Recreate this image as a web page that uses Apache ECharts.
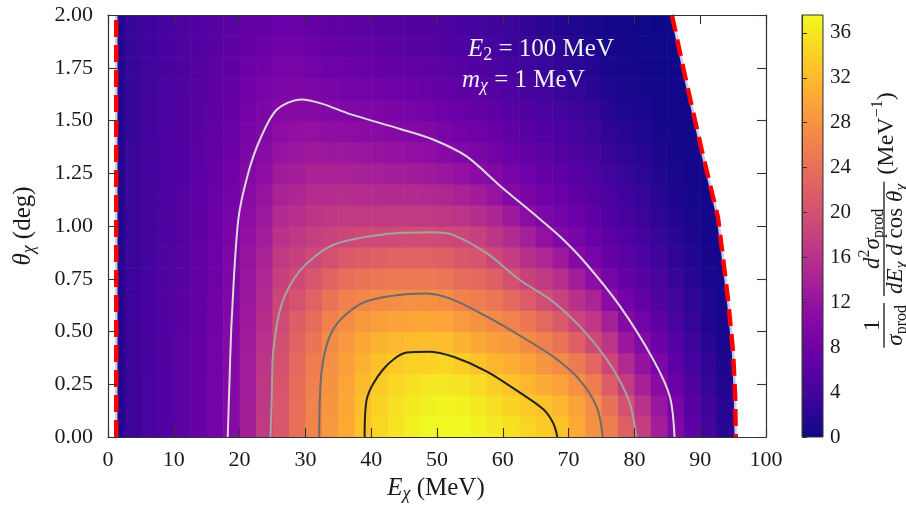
<!DOCTYPE html>
<html><head><meta charset="utf-8">
<script src="https://cdn.jsdelivr.net/npm/echarts@6/dist/echarts.min.js"></script>
<style>html,body{margin:0;padding:0;background:#fff}#chart{width:906px;height:506px}</style>
</head><body><div id="chart"></div>
<script>
// ---------- data ----------
const E_CENTERS = [1.25,3.75,6.25,8.75,11.25,13.75,16.25,18.75,21.25,23.75,26.25,28.75,31.25,33.75,36.25,38.75,41.25,43.75,46.25,48.75,51.25,53.75,56.25,58.75,61.25,63.75,66.25,68.75,71.25,73.75,76.25,78.75,81.25,83.75,86.25,88.75,91.25,93.75,96.25,98.75];
const THETA_CENTERS = [0.05,0.15,0.25,0.35,0.45,0.55,0.65,0.75,0.85,0.95,1.05,1.15,1.25,1.35,1.45,1.55,1.65,1.75,1.85,1.95];
const CELL_W = 2.5, CELL_H = 0.1;
const N = null;
// one list per E column, values from theta = 0.05 upward
const densityByColumn = [
 [1.5,1.5,1.5,1.5,1.5,1.5,1.5,1.5,1.5,1.4,1.4,1.4,1.4,1.4,1.4,1.3,1.3,1.3,1.3,1.3],
 [3.5,3.5,3.5,3.5,3.4,3.4,3.4,3.4,3.3,3.3,3.3,3.2,3.2,3.2,3.1,3.1,3.1,3.0,3.0,3.0],
 [4.5,4.5,4.5,4.4,4.4,4.4,4.3,4.3,4.2,4.2,4.1,4.1,4.0,4.0,3.9,3.9,3.8,3.8,3.7,3.7],
 [5.3,5.3,5.3,5.2,5.2,5.1,5.1,5.0,5.0,4.9,4.8,4.8,4.7,4.6,4.6,4.5,4.5,4.4,4.3,4.3],
 [6.2,6.2,6.2,6.1,6.1,6.0,6.0,5.9,5.8,5.7,5.6,5.5,5.4,5.3,5.2,5.1,5.0,4.9,4.8,4.8],
 [7.2,7.2,7.2,7.1,7.1,7.0,6.9,6.8,6.7,6.6,6.5,6.4,6.2,6.1,6.0,5.8,5.7,5.6,5.4,5.3],
 [8.5,8.5,8.4,8.4,8.3,8.2,8.1,8.0,7.9,7.8,7.6,7.4,7.2,7.0,6.8,6.6,6.4,6.2,6.0,5.8],
 [10.4,10.4,10.3,10.2,10.1,10.0,9.8,9.6,9.3,9.0,8.7,8.4,8.1,7.8,7.5,7.2,6.9,6.6,6.4,6.1],
 [13.5,13.5,13.4,13.3,13.1,12.9,12.6,12.3,12.0,11.6,11.1,10.6,10.0,9.5,9.0,8.5,8.1,7.7,7.3,6.9],
 [17.0,16.9,16.7,16.4,16.0,15.6,15.1,14.6,14.0,13.4,12.7,12.0,11.3,10.6,9.9,9.3,8.7,8.1,7.6,7.1],
 [21.0,20.9,20.6,20.2,19.8,19.3,18.8,17.9,17.0,16.0,15.1,14.1,13.1,12.1,11.1,10.2,9.4,8.7,8.1,7.5],
 [24.0,23.9,23.6,23.2,22.6,21.8,20.4,19.1,17.9,16.8,15.7,14.6,13.5,12.5,11.5,10.5,9.6,8.8,8.1,7.5],
 [26.3,26.2,25.9,25.4,24.6,23.6,22.3,20.7,19.0,17.7,16.5,15.3,14.1,12.9,11.7,10.5,9.4,8.5,7.7,7.0],
 [28.5,28.3,28.0,27.6,27.1,25.9,24.3,22.5,20.0,18.2,16.8,15.4,14.0,12.6,11.2,10.0,8.9,8.0,7.2,6.6],
 [30.5,30.3,29.9,29.3,28.5,27.3,25.8,23.8,21.3,18.7,17.0,15.5,14.0,12.6,11.1,9.7,8.6,7.7,6.9,6.3],
 [32.8,32.5,32.0,31.2,30.2,28.6,26.7,24.5,21.8,19.0,17.0,15.3,13.8,12.3,10.9,9.6,8.5,7.5,6.7,6.1],
 [34.5,34.1,33.5,32.5,31.2,29.4,27.2,24.8,22.2,19.2,17.0,15.2,13.6,12.1,10.6,9.3,8.2,7.3,6.5,5.9],
 [35.8,35.4,34.6,33.4,31.8,29.8,27.4,24.9,22.3,19.3,17.0,15.1,13.4,11.8,10.3,9.0,7.9,7.0,6.2,5.6],
 [36.8,36.3,35.4,34.1,32.2,30.0,27.6,25.0,22.3,19.4,17.0,15.0,13.2,11.6,10.0,8.8,7.7,6.8,6.0,5.4],
 [37.5,37.0,36.1,34.2,32.3,30.1,27.7,25.1,22.4,19.5,17.0,14.9,13.0,11.3,9.7,8.5,7.5,6.6,5.8,5.2],
 [37.8,37.2,36.1,34.5,32.3,29.9,27.3,24.7,22.0,19.2,16.7,14.6,12.5,10.5,9.1,8.0,7.0,6.1,5.4,4.8],
 [37.6,37.0,35.8,33.8,31.4,28.7,26.1,23.6,21.1,18.7,16.3,14.0,11.8,9.8,8.5,7.5,6.5,5.7,5.0,4.4],
 [37.0,36.3,34.9,32.7,30.3,28.0,25.6,23.2,20.6,18.0,15.5,13.2,10.9,9.2,8.0,7.0,6.1,5.3,4.6,4.1],
 [36.2,35.3,33.7,31.5,29.2,27.0,24.7,22.0,18.8,16.6,14.4,12.0,9.8,8.4,7.3,6.4,5.5,4.8,4.2,3.7],
 [35.3,34.3,32.8,30.8,28.5,26.1,23.3,20.0,17.5,15.2,12.9,10.1,8.8,7.6,6.6,5.8,5.0,4.3,3.7,3.2],
 [34.5,33.5,31.9,29.7,27.2,24.8,21.6,18.2,15.9,13.6,11.0,9.0,7.9,6.9,6.0,5.2,4.4,3.8,3.2,2.7],
 [33.6,32.6,30.6,28.3,25.9,23.0,19.6,17.0,14.6,11.7,9.4,8.2,7.1,6.2,5.3,4.5,3.8,3.2,2.6,2.1],
 [32.7,31.5,29.5,27.0,24.3,21.2,18.3,15.8,12.9,9.8,8.6,7.5,6.5,5.6,4.8,4.0,3.3,2.7,2.2,1.7],
 [30.5,29.6,27.7,25.3,22.1,18.5,15.9,13.3,10.3,8.7,7.6,6.6,5.7,4.9,4.1,3.4,2.8,2.2,1.7,1.3],
 [28.0,27.3,25.6,22.9,19.2,16.8,14.2,11.1,8.9,7.6,6.6,5.7,4.9,4.1,3.4,2.8,2.2,1.7,1.3,0.9],
 [25.5,24.2,21.7,18.8,16.4,13.7,10.8,8.7,7.3,6.3,5.4,4.6,3.8,3.1,2.5,1.9,1.4,1.0,0.7,0.5],
 [22.0,20.2,17.6,15.1,12.6,10.3,8.4,7.1,6.1,5.2,4.4,3.7,3.0,2.4,1.9,1.4,1.0,0.7,0.5,0.4],
 [17.5,16.0,13.9,11.9,10.0,8.3,7.0,5.9,5.0,4.2,3.5,2.9,2.3,1.8,1.4,1.0,0.7,0.5,0.3,0.2],
 [13.5,12.4,10.9,9.3,7.8,6.5,5.4,4.5,3.7,3.0,2.4,1.9,1.5,1.1,0.8,0.6,0.4,0.3,0.2,0.1],
 [9.8,9.0,7.8,6.6,5.5,4.6,3.8,3.1,2.5,2.0,1.6,1.2,0.9,0.7,0.5,0.4,0.3,0.2,0.1,0.1],
 [6.5,5.9,5.1,4.3,3.6,2.9,2.4,1.9,1.5,1.2,0.9,0.7,0.5,0.4,0.3,0.2,0.1,0.1,N,N],
 [4.0,3.6,3.0,2.5,2.0,1.6,1.3,1.0,0.8,0.6,0.4,0.3,0.2,0.1,N,N,N,N,N,N],
 [2.0,1.8,1.5,1.2,1.0,0.8,0.6,0.4,0.3,0.2,0.1,N,N,N,N,N,N,N,N,N],
 [0.8,0.7,0.5,0.4,N,N,N,N,N,N,N,N,N,N,N,N,N,N,N,N],
 [N,N,N,N,N,N,N,N,N,N,N,N,N,N,N,N,N,N,N,N]
];
// contour lines [E, theta]
const contour10 = [[18.2,0],[18.5,0.3],[18.8,0.555],[19.8,1.03],[21.3,1.25],[23.1,1.41],[25.6,1.55],[29.4,1.60],[32.5,1.58],[36.8,1.53],[44.4,1.46],[49.4,1.41],[54.5,1.33],[59.6,1.19],[64.6,1.06],[68.7,0.95],[72.7,0.82],[77.8,0.62],[82.9,0.365],[85.4,0.19],[86.1,0]];
const contour19 = [[24.7,0],[24.9,0.2],[25.1,0.40],[26.4,0.63],[29.2,0.79],[34.2,0.91],[41.8,0.96],[49.4,0.97],[52.5,0.957],[57.6,0.87],[62.6,0.744],[67.7,0.64],[72.7,0.49],[76.8,0.32],[79.3,0.16],[80.3,0]];
const contour27 = [[32.1,0],[32.5,0.32],[34.2,0.51],[38.3,0.63],[43.4,0.67],[48.4,0.68],[52.5,0.65],[57.6,0.57],[62.6,0.48],[67.7,0.38],[71.7,0.27],[74.3,0.14],[75.2,0]];
const contour33 = [[39.0,0],[39.3,0.175],[41.8,0.32],[45.4,0.40],[48.7,0.404],[52.5,0.38],[57.6,0.31],[62.6,0.21],[66.2,0.13],[67.7,0.063],[68.3,0]];
// kinematic boundaries
const boundaryE = [85.7,86.8,87.9,90.3,92.7,93.5,94.3,95.0,95.3,95.4];
const boundaryTheta = [2.0,1.84,1.68,1.35,1.04,0.84,0.63,0.40,0.2,0.0];
const leftEdgeE = [1.25,1.25];
const leftEdgeTheta = [0,2];
// axes ticks
const X_TICKS = [0,10,20,30,40,50,60,70,80,90,100];
const CB_TICKS = [0,4,8,12,16,20,24,28,32,36];
const CB_MAX = 37.6;
const PLASMA = ['#0d0887','#41049d','#6a00a8','#8f0da4','#b12a90','#cc4778','#e16462','#f2844b','#fca636','#fcce25','#f0f921'];

// ---------- build ----------
const cells = [];
E_CENTERS.forEach((e, c) => THETA_CENTERS.forEach((t, r) => {
  const v = densityByColumn[c][r];
  if (v !== null) cells.push([e, t, v]);
}));
const zip = (a, b) => a.map((v, i) => [v, b[i]]);

const FONT = '"Liberation Serif", "DejaVu Serif", serif';
const mctx = document.createElement('canvas').getContext('2d');
function fnt(p){ return (p.i ? 'italic ' : '') + (p.s || 22) + 'px ' + FONT; }
function mathLine(pieces, color, x0, y0, align){
  let x = 0; const items = [];
  for (const p of pieces){ mctx.font = fnt(p); const w = mctx.measureText(p.t).width; items.push({p, x}); x += w + (p.k || 0); }
  const off = align === 'center' ? -x/2 : 0;
  return {width: x, els: items.map(it => ({type:'text', x: x0 + it.x + off, y: y0 + (it.p.dy || 0), silent:true, z:100,
    style:{text: it.p.t, font: fnt(it.p), fill: color, align:'left', verticalAlign:'middle'}}))};
}

const TXT = '#1a1a1a';
const graphics = [];
// x axis title
graphics.push({type:'group', x:436, y:488, z:100, children: mathLine([{t:'E',s:25,i:1},{t:'χ',s:18,i:1,dy:6},{t:' (MeV)',s:25}], TXT, 0, 0, 'center').els});
// y axis title
graphics.push({type:'group', x:23, y:226, z:100, rotation:Math.PI/2, children: mathLine([{t:'θ',s:25,i:1},{t:'χ',s:18,i:1,dy:6},{t:' (deg)',s:25}], TXT, 0, 0, 'center').els});
// annotations
graphics.push({type:'group', x:468, y:49, z:100, children: mathLine([{t:'E',s:25,i:1},{t:'2',s:18,dy:6},{t:' = 100 MeV',s:25}], '#f2f2f2', 0, 0).els});
graphics.push({type:'group', x:462, y:80, z:100, children: mathLine([{t:'m',s:25,i:1},{t:'χ',s:18,i:1,dy:6},{t:' = 1 MeV',s:25}], '#f2f2f2', 0, 0).els});
// colorbar label (rotated)
(function(){
  const S = 23, s = 16;
  const num1 = mathLine([{t:'1',s:S}], TXT, 0, 0, 'center');
  const den1 = mathLine([{t:'σ',s:S,i:1},{t:'prod',s:s,dy:6}], TXT, 0, 0, 'center');
  const num2 = mathLine([{t:'d',s:S,i:1},{t:'2',s:s,dy:-8},{t:'σ',s:S,i:1},{t:'prod',s:s,dy:6}], TXT, 0, 0, 'center');
  const den2 = mathLine([{t:'d',s:S,i:1},{t:'E',s:S,i:1},{t:'χ',s:s,i:1,dy:6},{t:' d',s:S,i:1},{t:' cos ',s:S},{t:'θ',s:S,i:1},{t:'χ',s:s,i:1,dy:6}], TXT, 0, 0, 'center');
  const unit = mathLine([{t:'(MeV',s:24},{t:'−1',s:16,dy:-9},{t:')',s:24}], TXT, 0, 0, 'center');
  const w1 = Math.max(num1.width, den1.width) + 4;
  const w2 = Math.max(num2.width, den2.width) + 4;
  const gap = 7;
  const total = w1 + gap + w2 + gap + unit.width;
  let x = -total/2;
  const kids = [];
  const shift = (els, dx, dy) => els.map(e => Object.assign({}, e, {x: e.x + dx, y: e.y + dy}));
  const c1 = x + w1/2;
  kids.push(...shift(num1.els, c1, -11), ...shift(den1.els, c1, 12));
  kids.push({type:'line', z:100, shape:{x1:x, y1:0, x2:x+w1, y2:0}, style:{stroke:TXT, lineWidth:1.3}});
  x += w1 + gap;
  const c2 = x + w2/2;
  kids.push(...shift(num2.els, c2, -11), ...shift(den2.els, c2, 12));
  kids.push({type:'line', z:100, shape:{x1:x, y1:0, x2:x+w2, y2:0}, style:{stroke:TXT, lineWidth:1.3}});
  x += w2 + gap;
  kids.push(...shift(unit.els, x + unit.width/2, 3));
  graphics.push({type:'group', x:884, y:220, z:100, rotation:Math.PI/2, children:kids});
})();

const axisLine = {show:true, onZero:false, lineStyle:{color:'#333', width:1.2}};
const tickIn = {show:true, inside:true, length:9, lineStyle:{color:'#333', width:1.1}};
const lab = {fontFamily: FONT, fontSize: 22, color: TXT};

const chart = echarts.init(document.getElementById('chart'), null, {renderer:'canvas'});
chart.setOption({
  animation:false,
  backgroundColor:'#fff',
  grid:[
    {left:108, top:15, width:658, height:422},
    {left:802, top:15, width:21, height:422}
  ],
  xAxis:[
    {type:'value', gridIndex:0, min:0, max:100, interval:10, position:'bottom', z:10, axisLine, axisTick:tickIn,
      axisLabel:Object.assign({margin:12, customValues:X_TICKS}, lab), splitLine:{show:false}},
    {type:'value', gridIndex:0, min:0, max:100, interval:10, position:'top', z:10, axisLine, axisTick:tickIn,
      axisLabel:{show:false}, splitLine:{show:false}},
    {type:'value', gridIndex:1, min:0, max:1, show:false}
  ],
  yAxis:[
    {type:'value', gridIndex:0, min:0, max:2, interval:0.25, position:'left', z:10, axisLine, axisTick:tickIn,
      axisLabel:Object.assign({margin:15, formatter:v => v.toFixed(2)}, lab), splitLine:{show:false}},
    {type:'value', gridIndex:0, min:0, max:2, interval:0.25, position:'right', z:10, axisLine, axisTick:tickIn,
      axisLabel:{show:false}, splitLine:{show:false}},
    {type:'value', gridIndex:1, min:0, max:CB_MAX, position:'right', z:10,
      axisLine:{show:true, lineStyle:{color:'#333', width:1}},
      axisTick:{show:true, inside:false, length:5, customValues:CB_TICKS, lineStyle:{color:'#333'}},
      axisLabel:Object.assign({margin:7, customValues:CB_TICKS}, lab, {fontSize:21}), splitLine:{show:false}}
  ],
  visualMap:{show:false, type:'continuous', min:0, max:CB_MAX, dimension:2, seriesIndex:0, inRange:{color:PLASMA}},
  series:[
    {type:'custom', name:'density', xAxisIndex:0, yAxisIndex:0, clip:true, data:cells, encode:{x:0, y:1}, z:1,
      renderItem:function(params, api){
        const e = api.value(0), t = api.value(1);
        const a = api.coord([e - CELL_W/2, t + CELL_H/2]);
        const b = api.coord([e + CELL_W/2, t - CELL_H/2]);
        return {type:'rect', shape:{x:a[0], y:a[1], width:b[0]-a[0]+0.6, height:b[1]-a[1]+0.6}, style:{fill:api.visual('color')}};
      }},
    {type:'custom', name:'mask', xAxisIndex:0, yAxisIndex:0, clip:true, data:[[50,1]], encode:{x:0, y:1}, z:2, silent:true,
      renderItem:function(params, api){
        const pts = boundaryE.map((e, i) => api.coord([e, boundaryTheta[i]]));
        pts.push(api.coord([105, -0.2]), api.coord([105, 2.2]), api.coord([boundaryE[0], 2.2]));
        const l0 = api.coord([-5, -0.2]), l1 = api.coord([leftEdgeE[0], 2.2]);
        return {type:'group', children:[
          {type:'polygon', shape:{points:pts}, style:{fill:'#fff'}},
          {type:'rect', shape:{x:l0[0], y:l1[1], width:l1[0]-l0[0], height:l0[1]-l1[1]}, style:{fill:'#fff'}}
        ]};
      }},
    {type:'line', xAxisIndex:0, yAxisIndex:0, data:contour10, showSymbol:false, smooth:0.3, z:3, lineStyle:{color:'#dcdcdc', width:2}},
    {type:'line', xAxisIndex:0, yAxisIndex:0, data:contour19, showSymbol:false, smooth:0.3, z:3, lineStyle:{color:'#a3a3a3', width:2}},
    {type:'line', xAxisIndex:0, yAxisIndex:0, data:contour27, showSymbol:false, smooth:0.3, z:3, lineStyle:{color:'#6c6c6c', width:2}},
    {type:'line', xAxisIndex:0, yAxisIndex:0, data:contour33, showSymbol:false, smooth:0.3, z:3, lineStyle:{color:'#222222', width:2}},
    {type:'line', xAxisIndex:0, yAxisIndex:0, data:zip(boundaryE, boundaryTheta), showSymbol:false, z:4, lineStyle:{color:'#c8c8f0', width:2.5}},
    {type:'line', xAxisIndex:0, yAxisIndex:0, data:zip(boundaryE, boundaryTheta), showSymbol:false, z:5, lineStyle:{color:'#ff0000', width:4.5, type:[17,8]}},
    {type:'line', xAxisIndex:0, yAxisIndex:0, data:zip(leftEdgeE, leftEdgeTheta), showSymbol:false, z:4, lineStyle:{color:'#c8c8f0', width:2.5}},
    {type:'line', xAxisIndex:0, yAxisIndex:0, data:zip(leftEdgeE, leftEdgeTheta), showSymbol:false, z:5, lineStyle:{color:'#ff0000', width:4.5, type:[17,8]}},
    {type:'custom', name:'colorbar', xAxisIndex:2, yAxisIndex:2, data:[[0.5, 0]], encode:{x:0, y:1}, silent:true,
      renderItem:function(params, api){
        const a = api.coord([0, CB_MAX]), b = api.coord([1, 0]);
        const stops = PLASMA.map((c, i) => ({offset:i/(PLASMA.length-1), color:c}));
        return {type:'rect', shape:{x:a[0], y:a[1], width:b[0]-a[0], height:b[1]-a[1]},
          style:{fill:new echarts.graphic.LinearGradient(0, 1, 0, 0, stops), stroke:'#333', lineWidth:1}};
      }}
  ],
  graphic:{elements:graphics}
});
</script></body></html>
